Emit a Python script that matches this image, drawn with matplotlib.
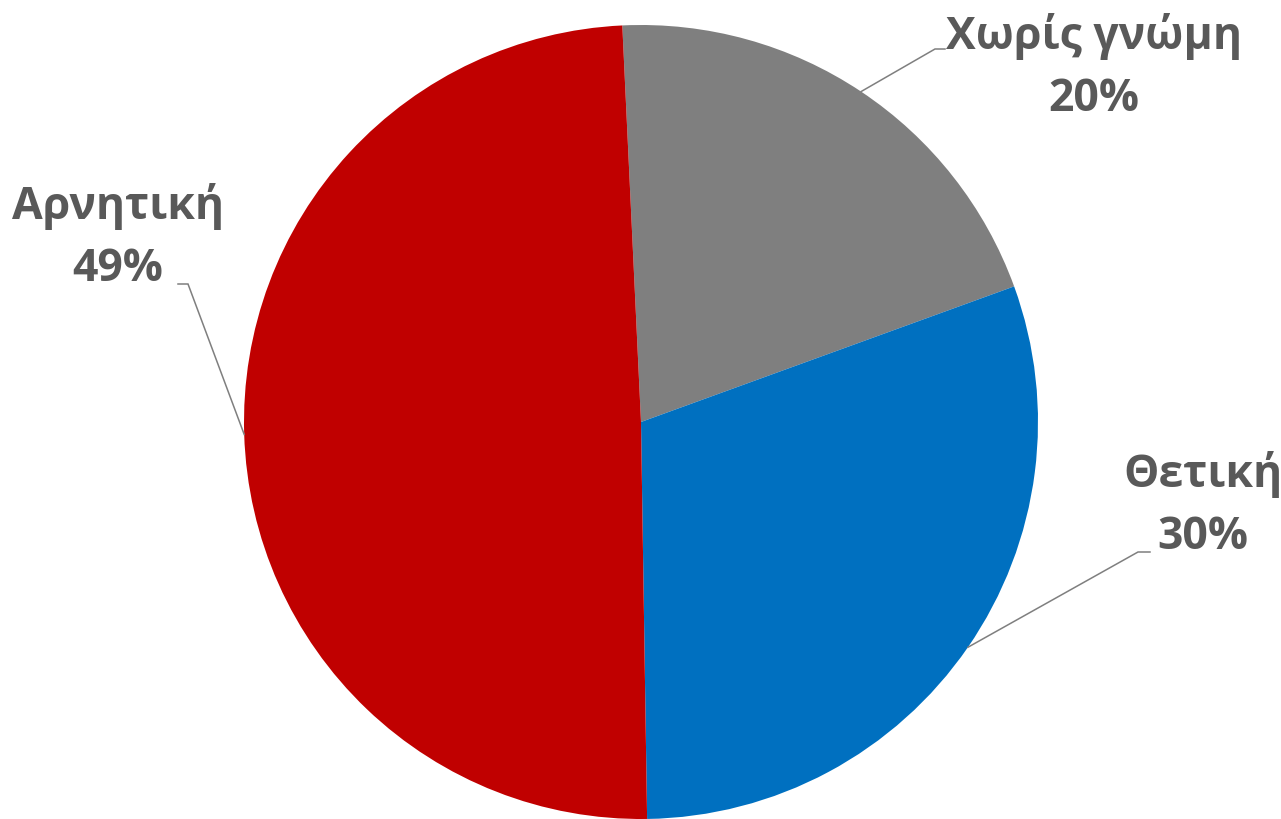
import numpy as np
import matplotlib.pyplot as plt

# data
labels = ['Χωρίς γνώμη', 'Θετική', 'Αρνητική']
values = [20, 30, 49]
colors = ['#7F7F7F', '#0070C0', '#C00000']

W, H = 1281, 820
CX, CY, R = 641, 423, 397  # pie centre and radius in pixels


def to_data(px, py):
    return (px - CX) / R, (CY - py) / R


fig = plt.figure(figsize=(W / 100, H / 100), dpi=100)
ax = fig.add_axes([0, 0, 1, 1])

wedges, _ = ax.pie(values, colors=colors, startangle=92.7, counterclock=False,
                   radius=1, center=(0, 0), frame=True)
ax.set_xlim(-CX / R, (W - CX) / R)
ax.set_ylim(-(H - CY) / R, CY / R)
ax.set_aspect('equal')
ax.axis('off')

# label text centres and leader-line elbows (pixels)
text_pos = [(1094, 68), (1203, 506), (118, 238)]
elbows = [((935, 50), (945, 50)), ((1138, 553), (1150, 553)), ((188, 285), (178, 285))]

for w, lab, v, tp, (e1, e2) in zip(wedges, labels, values, text_pos, elbows):
    mid = np.deg2rad((w.theta1 + w.theta2) / 2)
    sx, sy = np.cos(mid), np.sin(mid)
    x1, y1 = to_data(*e1)
    x2, y2 = to_data(*e2)
    ax.plot([sx, x1, x2], [sy, y1, y2], color='#7F7F7F', lw=1.1,
            solid_joinstyle='miter', zorder=3)
    tx, ty = to_data(*tp)
    ax.text(tx, ty, f'{lab}\n{v:.0f}%', ha='center', va='center',
            fontsize=32, fontweight='bold', color='#595959',
            family=['Open Sans', 'DejaVu Sans'], linespacing=1.5)

fig.savefig('out.png', dpi=100)
